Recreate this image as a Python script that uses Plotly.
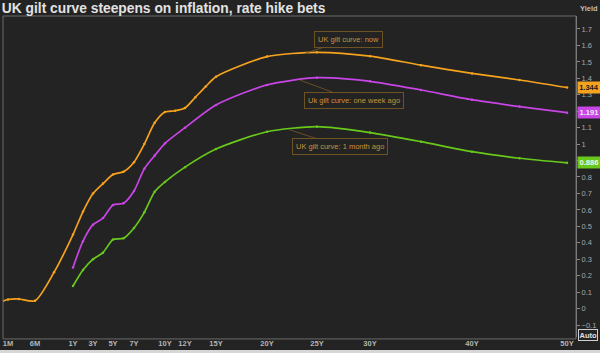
import numpy as np
import plotly.graph_objects as go

# ---- axis scale (tenor in years -> horizontal axis units) ----
ANCHOR_TENOR = [0, 1/12, 0.5, 1, 3, 5, 7, 10, 12, 15, 20, 25, 30, 40, 50]
ANCHOR_POS = [3, 8, 35, 73, 93, 113, 134, 165, 185, 216, 267, 317, 370, 472, 567]

def xscale(t):
    return np.interp(np.asarray(t, dtype=float), ANCHOR_TENOR, ANCHOR_POS)

# ---- tick labels ----
tick_tenors = [1/12, 0.5, 1, 3, 5, 7, 10, 12, 15, 20, 25, 30, 40, 50]
tick_labels = ['1M', '6M', '1Y', '3Y', '5Y', '7Y', '10Y', '12Y', '15Y', '20Y', '25Y', '30Y', '40Y', '50Y']

# ---- data (yield, %) ----
now_tenor = [0, 1/12, 0.25, 0.5, 0.75, 1, 2, 3, 4, 5, 6, 7, 8, 9, 10, 11, 12, 13, 14, 15,
             20, 25, 30, 35, 40, 45, 50]
now_yield = [0.046, 0.055, 0.058, 0.047, 0.22, 0.45, 0.59, 0.70, 0.76, 0.815, 0.832, 0.89,
             1.00, 1.13, 1.195, 1.203, 1.22, 1.285, 1.35, 1.41,
             1.532, 1.558, 1.535, 1.48, 1.43, 1.39, 1.344]

week_tenor = [1, 2, 3, 4, 5, 6, 7, 8, 9, 10, 12, 15, 20, 25, 30, 35, 40, 45, 50]
week_yield = [0.25, 0.41, 0.51, 0.55, 0.63, 0.64, 0.715, 0.85, 0.93, 1.005, 1.10, 1.238,
              1.36, 1.404, 1.382, 1.329, 1.27, 1.228, 1.191]

month_tenor = [1, 2, 3, 4, 5, 6, 7, 8, 9, 10, 12, 15, 20, 25, 30, 35, 40, 45, 50]
month_yield = [0.137, 0.234, 0.30, 0.34, 0.42, 0.427, 0.49, 0.585, 0.71, 0.77, 0.86, 0.97,
               1.075, 1.106, 1.07, 1.015, 0.954, 0.914, 0.886]

series = [
    ("UK gilt curve: now", now_tenor, now_yield, "#f5a21f", "#1a1a1a"),
    ("Uk gilt curve: one week ago", week_tenor, week_yield, "#c845e6", "#f4e8f8"),
    ("UK gilt curve: 1 month ago", month_tenor, month_yield, "#68c91c", "#f2f8ea"),
]

BG = "#232323"
fig = go.Figure()

for name, t, y, col, _ in series:
    fig.add_trace(go.Scatter(
        x=xscale(t), y=y, mode="lines+markers", name=name,
        line=dict(color=col, width=1.7, shape="spline", smoothing=0.7),
        marker=dict(size=2.5, color=col),
        showlegend=False, hoverinfo="skip",
    ))

# last value badges
for name, t, y, col, txtcol in series:
    fig.add_annotation(
        xref="paper", yref="y", x=1, y=y[-1], xanchor="left", yanchor="middle",
        text="<b>%.3f</b>" % y[-1], showarrow=False, xshift=1,
        font=dict(family="Liberation Sans, Arial", size=7.5, color=txtcol),
        bgcolor=col, borderpad=1, width=20,
    )

# in-chart labels with leader lines
label_cfg = [
    (now_tenor, now_yield, 23.8, 43, -14),
    (week_tenor, week_yield, 23.3, 54, 20),
    (month_tenor, month_yield, 22.2, 51, 17),
]
for (name, t, y, col, _), (tt, yy, at, ax, ay) in zip(series, label_cfg):
    px = float(xscale(at))
    py = float(np.interp(at, tt, yy))
    fig.add_annotation(
        x=px, y=py, xref="x", yref="y", text=name, showarrow=True,
        arrowhead=0, arrowwidth=0.8, arrowcolor="#7a5a28", ax=ax, ay=ay,
        font=dict(family="Liberation Sans, Arial", size=7.5, color="#c8923c"),
        bordercolor="#6e5224", borderwidth=1, borderpad=3, bgcolor=BG,
    )

# Yield label and Auto box
fig.add_annotation(xref="paper", yref="paper", x=1, y=1.022, xanchor="left", yanchor="middle",
                   text="<b>Yield</b>", showarrow=False, xshift=2,
                   font=dict(family="Liberation Sans, Arial", size=7.5, color="#bdbdbd"))
fig.add_annotation(xref="paper", yref="paper", x=1, y=0.006, xanchor="left", yanchor="middle",
                   text="<b>Auto</b>", showarrow=False, xshift=2,
                   font=dict(family="Liberation Sans, Arial", size=7.5, color="#e0e0e0"),
                   bordercolor="#cfcfcf", borderwidth=1, borderpad=0.5)

# frame and bottom strip
fig.add_shape(type="rect", xref="paper", yref="paper", x0=0, x1=1, y0=-0.006, y1=1,
              line=dict(color="#6a6a6a", width=1))
fig.add_shape(type="rect", xref="paper", yref="paper", x0=-0.01, x1=1.05, y0=-0.0405, y1=-0.06,
              line=dict(width=0), fillcolor="#d6d6d6")

fig.update_layout(
    width=600, height=353,
    margin=dict(l=3, r=24, t=16, b=16),
    paper_bgcolor=BG, plot_bgcolor=BG,
    title=dict(text="<b>UK gilt curve steepens on inflation, rate hike bets</b>",
               x=0.003, xanchor="left", y=0.99, yanchor="top",
               font=dict(family="Liberation Sans, Arial", size=13.8, color="#e2e2e2")),
    xaxis=dict(range=[3, 576], tickvals=list(xscale(tick_tenors)), ticktext=[f"<b>{s}</b>" for s in tick_labels],
               showgrid=False, zeroline=False, showline=False, ticks="",
               tickfont=dict(family="Liberation Sans, Arial", size=7.5, color="#b5b5b5")),
    yaxis=dict(range=[-0.173, 1.779], side="right", dtick=0.1, tick0=0,
               showgrid=False, zeroline=False, showline=True, linecolor="#8a8a8a", linewidth=1,
               ticks="outside", ticklen=3, tickcolor="#8a8a8a",
               tickfont=dict(family="Liberation Sans, Arial", size=7.5, color="#a8a8a8")),
)

fig.write_html("out.html")
